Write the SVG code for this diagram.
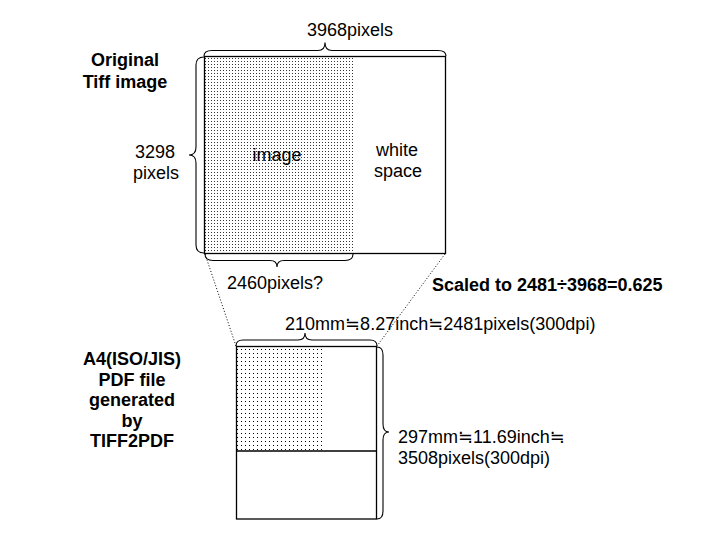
<svg xmlns="http://www.w3.org/2000/svg" width="720" height="540" viewBox="0 0 720 540">
  <defs>
    <pattern id="dots3" x="0" y="0" width="3" height="3" patternUnits="userSpaceOnUse">
      <rect x="1" y="1" width="1" height="1" fill="#000"/>
    </pattern>
    <pattern id="dots4" x="0" y="0" width="4" height="4" patternUnits="userSpaceOnUse">
      <rect x="1" y="1" width="1" height="1" fill="#000"/>
    </pattern>
  </defs>
  <style>
    .box { fill: none; stroke: #000; stroke-width: 1.3; }
    .brace { fill: none; stroke: #000; stroke-width: 1.1; }
    .dotline { fill: none; stroke: #000; stroke-width: 1; stroke-dasharray: 1 2; }
    .t { font-family: "Liberation Sans", Arial, "DejaVu Sans", sans-serif; font-size: 18px; fill: #000; }
    .b { font-weight: bold; }
    .m { text-anchor: middle; }
  </style>
  <rect width="720" height="540" fill="#fff"/>

  <g id="connectors">
    <line class="dotline" x1="205" y1="254" x2="236" y2="346"/>
    <line class="dotline" x1="445" y1="254" x2="377" y2="346"/>
  </g>

  <g id="original-tiff">
    <rect x="205" y="57" width="148" height="196" fill="url(#dots3)" opacity="0.8"/>
    <rect class="box" x="204.5" y="56.5" width="241" height="197"/>
    <text class="t m" x="277" y="161">image</text>
    <text class="t m" x="397" y="156">white</text>
    <text class="t m" x="398" y="177">space</text>
  </g>

  <g id="original-label">
    <text class="t b m" x="125" y="66">Original</text>
    <text class="t b m" x="125" y="88">Tiff image</text>
  </g>

  <g id="pdf-page">
    <rect x="237" y="347" width="85" height="104" fill="url(#dots4)"/>
    <rect class="box" x="236.5" y="346.5" width="140" height="172.5"/>
    <line class="box" x1="236.5" y1="451" x2="376.5" y2="451"/>
  </g>

  <g id="pdf-label">
    <text class="t b m" x="132" y="365">A4(ISO/JIS)</text>
    <text class="t b m" x="132" y="385.5">PDF file</text>
    <text class="t b m" x="132" y="406">generated</text>
    <text class="t b m" x="132" y="426.5">by</text>
    <text class="t b m" x="132" y="447">TIFF2PDF</text>
  </g>

  <g id="braces">
    <path class="brace" d="M204,56 Q204,50.5 212,50.5 L318,50.5 Q325,50.5 325,42.5 Q325,50.5 332,50.5 L438,50.5 Q446,50.5 446,56"/>
    <path class="brace" d="M204,57 Q196,57 196,65 L196,147 Q196,155 189,155 Q196,155 196,163 L196,245 Q196,253 204,253"/>
    <path class="brace" d="M205,254 Q205,260.5 213,260.5 L270,260.5 Q277,260.5 277,267 Q277,260.5 284,260.5 L345,260.5 Q353,260.5 353,254"/>
    <path class="brace" d="M236,346 Q236,340 243,340 L298,340 Q305,340 305,333 Q305,340 312,340 L370,340 Q377,340 377,346"/>
    <path class="brace" d="M377,347 Q383,347 383,355 L383,424 Q383,432 389,432 Q383,432 383,440 L383,511 Q383,519 377,519"/>
  </g>

  <g id="labels">
    <text class="t m" x="350" y="36">3968pixels</text>
    <text class="t m" x="155" y="158">3298</text>
    <text class="t m" x="156" y="179">pixels</text>
    <text class="t m" x="275" y="289">2460pixels?</text>
    <text class="t b" x="432" y="291">Scaled to 2481÷3968=0.625</text>
    <text class="t" x="285" y="330">210mm≒8.27inch≒2481pixels(300dpi)</text>
    <text class="t" x="398" y="443">297mm≒11.69inch≒</text>
    <text class="t" x="398" y="464">3508pixels(300dpi)</text>
  </g>
</svg>
